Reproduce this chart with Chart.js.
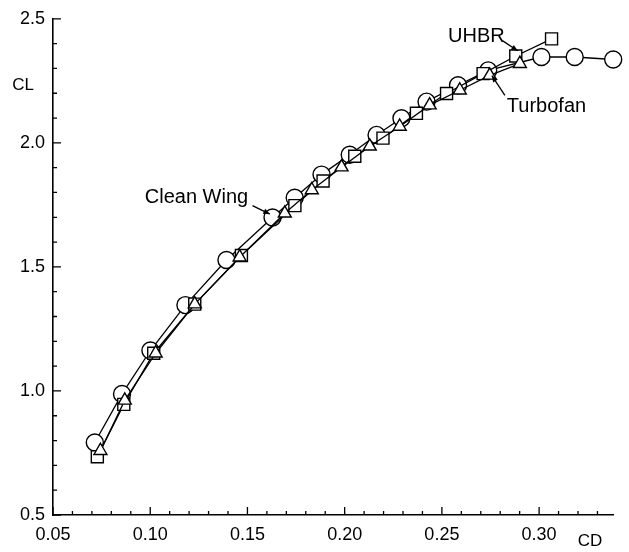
<!DOCTYPE html>
<html>
<head>
<meta charset="utf-8">
<script src="https://cdn.jsdelivr.net/npm/chart.js@4"></script>
<style>
  html, body { margin: 0; padding: 0; background: #fff; }
  #wrap { width: 629px; height: 552px; }
</style>
</head>
<body>
<div id="wrap"><canvas id="chart" width="629" height="552"></canvas></div>
<script>
// Clean wing (circles)
const CLEAN_CD = [0.0715, 0.0855, 0.1001, 0.1181, 0.1392, 0.1629, 0.1743, 0.1881, 0.2026, 0.2164, 0.2292, 0.2421, 0.2583, 0.2738, 0.3012, 0.3183, 0.3381];
const CLEAN_CL = [0.792, 0.988, 1.163, 1.346, 1.528, 1.699, 1.779, 1.872, 1.952, 2.032, 2.099, 2.166, 2.232, 2.292, 2.346, 2.346, 2.336];

// UHBR (squares)
const UHBR_CD = [0.0728, 0.0864, 0.1018, 0.1229, 0.1469, 0.1744, 0.1889, 0.2052, 0.2197, 0.2369, 0.2524, 0.2712, 0.2880, 0.3064];
const UHBR_CL = [0.735, 0.946, 1.152, 1.350, 1.546, 1.747, 1.846, 1.946, 2.019, 2.119, 2.199, 2.279, 2.350, 2.419];

// Turbofan (triangles)
const TURBO_CD = [0.0744, 0.0869, 0.1028, 0.1229, 0.1460, 0.1692, 0.1831, 0.1984, 0.2129, 0.2283, 0.2437, 0.2592, 0.2746, 0.2901];
const TURBO_CL = [0.759, 0.962, 1.152, 1.350, 1.539, 1.716, 1.810, 1.902, 1.986, 2.066, 2.152, 2.212, 2.272, 2.319];

const X_TICKS = [0.05, 0.10, 0.15, 0.20, 0.25, 0.30];
const Y_TICKS = [0.5, 1.0, 1.5, 2.0, 2.5];

// labels with arrows, in data units
const NOTES = [
  { text: "Clean Wing", x: 0.0972, y: 1.779, from: [0.1526, 1.747], to: [0.1615, 1.713] },
  { text: "UHBR", x: 0.2532, y: 2.430, from: [0.2813, 2.411], to: [0.2890, 2.371] },
  { text: "Turbofan", x: 0.2834, y: 2.147, from: [0.2824, 2.191], to: [0.2757, 2.271] },
];

const FONT = "'Liberation Sans', Arial, Helvetica, sans-serif";
const pts = (xs, ys) => xs.map((x, i) => ({ x, y: ys[i] }));

function series(label, xs, ys, style, radius, order) {
  return {
    label, data: pts(xs, ys), showLine: true, order, clip: false,
    borderColor: "#000", borderWidth: 1.3, tension: 0,
    pointStyle: style, pointRadius: radius,
    pointBackgroundColor: "#fff", pointBorderColor: "#000", pointBorderWidth: 1.4,
  };
}

const decor = {
  id: "decor",
  afterDraw(chart) {
    const { ctx, chartArea: a } = chart;
    const x = chart.scales.x, y = chart.scales.y;
    ctx.save();
    ctx.strokeStyle = "#000";
    ctx.lineWidth = 1.3;
    ctx.beginPath();
    // inward ticks on x
    for (let i = 5; i <= 33; i++) {
      const px = x.getPixelForValue(i / 100);
      const len = i % 5 === 0 ? 8 : 4;
      ctx.moveTo(px, a.bottom);
      ctx.lineTo(px, a.bottom - len);
    }
    // inward ticks on y
    for (let i = 5; i <= 25; i++) {
      const py = y.getPixelForValue(i / 10);
      const len = i % 5 === 0 ? 8 : 4;
      ctx.moveTo(a.left, py);
      ctx.lineTo(a.left + len, py);
    }
    ctx.stroke();

    ctx.fillStyle = "#000";
    ctx.font = "17px " + FONT;
    ctx.textBaseline = "middle";
    ctx.textAlign = "center";
    ctx.fillText("CL", a.left - 30, a.top + 67);
    ctx.fillText("CD", a.right - 23, a.bottom + 26);

    ctx.font = "20px " + FONT;
    ctx.textAlign = "left";
    for (const n of NOTES) {
      ctx.fillText(n.text, x.getPixelForValue(n.x), y.getPixelForValue(n.y));
      const x0 = x.getPixelForValue(n.from[0]), y0 = y.getPixelForValue(n.from[1]);
      const x1 = x.getPixelForValue(n.to[0]), y1 = y.getPixelForValue(n.to[1]);
      ctx.beginPath();
      ctx.moveTo(x0, y0);
      ctx.lineTo(x1, y1);
      ctx.stroke();
      const ang = Math.atan2(y1 - y0, x1 - x0);
      ctx.beginPath();
      ctx.moveTo(x1, y1);
      ctx.lineTo(x1 - 7 * Math.cos(ang - 0.4), y1 - 7 * Math.sin(ang - 0.4));
      ctx.lineTo(x1 - 7 * Math.cos(ang + 0.4), y1 - 7 * Math.sin(ang + 0.4));
      ctx.closePath();
      ctx.fill();
    }
    ctx.restore();
  },
};

new Chart(document.getElementById("chart"), {
  type: "scatter",
  data: {
    datasets: [
      series("Turbofan", TURBO_CD, TURBO_CL, "triangle", 7.5, 1),
      series("UHBR", UHBR_CD, UHBR_CL, "rect", 8.5, 2),
      series("Clean Wing", CLEAN_CD, CLEAN_CL, "circle", 8.5, 3),
    ],
  },
  options: {
    responsive: false,
    animation: false,
    devicePixelRatio: 1,
    layout: { padding: { top: 15, right: 16, left: 0, bottom: 0 } },
    plugins: { legend: { display: false }, tooltip: { enabled: false } },
    scales: {
      x: {
        type: "linear", min: 0.05, max: 0.338,
        afterBuildTicks: (s) => { s.ticks = X_TICKS.map((v) => ({ value: v })); },
        afterFit: (s) => { s.height = 37; },
        ticks: { callback: (v) => v.toFixed(2), color: "#000", font: { size: 18, family: FONT }, padding: 9, maxRotation: 0, autoSkip: false },
        grid: { display: false, drawTicks: false },
        border: { display: true, color: "#000", width: 1.6 },
      },
      y: {
        type: "linear", min: 0.5, max: 2.5,
        afterBuildTicks: (s) => { s.ticks = Y_TICKS.map((v) => ({ value: v })); },
        afterFit: (s) => { s.width = 53; },
        ticks: { callback: (v) => v.toFixed(1), color: "#000", font: { size: 18, family: FONT }, padding: 8, autoSkip: false },
        grid: { display: false, drawTicks: false },
        border: { display: true, color: "#000", width: 1.6 },
      },
    },
  },
  plugins: [decor],
});
</script>
</body>
</html>
